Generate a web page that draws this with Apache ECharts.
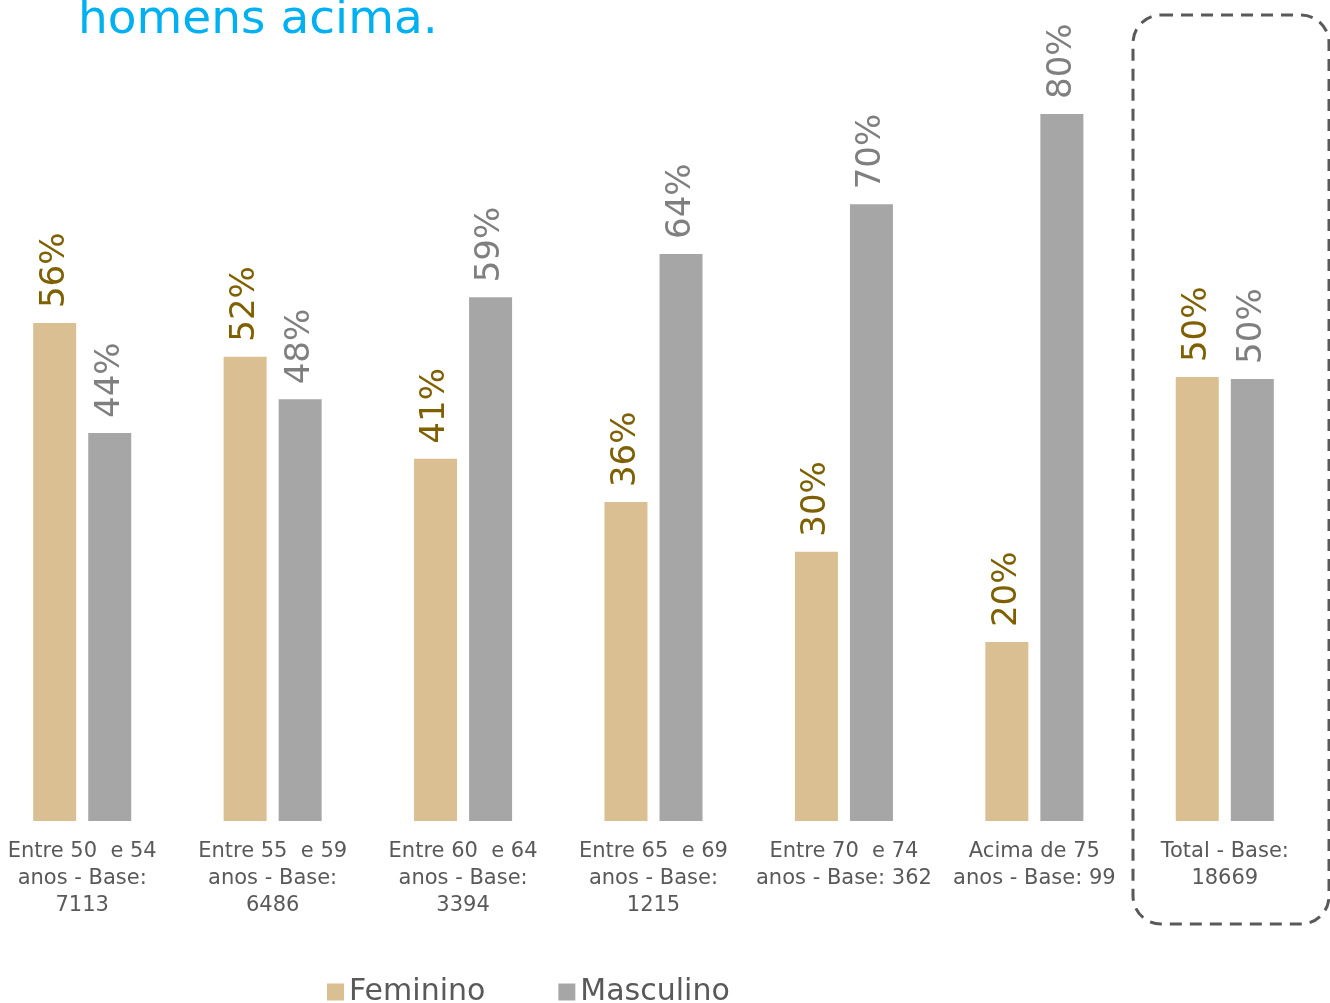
<!DOCTYPE html>
<html>
<head>
<meta charset="utf-8">
<script src="https://cdn.jsdelivr.net/npm/echarts@6/dist/echarts.min.js"></script>
<style>html,body{margin:0;padding:0;background:#fff;overflow:hidden}#c{width:1343px;height:1003px;margin-left:-13px}</style>
</head>
<body>
<div id="c"></div>
<script>
const categories = [
  "Entre 50  e 54\nanos - Base:\n7113",
  "Entre 55  e 59\nanos - Base:\n6486",
  "Entre 60  e 64\nanos - Base:\n3394",
  "Entre 65  e 69\nanos - Base:\n1215",
  "Entre 70  e 74\nanos - Base: 362",
  "Acima de 75\nanos - Base: 99",
  "Total - Base:\n18669"
];
const feminino = [56.2, 52.4, 40.9, 36.0, 30.4, 20.2, 50.1];
const masculino = [43.8, 47.6, 59.1, 64.0, 69.6, 79.8, 49.9];
const seriesNames = ["Feminino", "Masculino"];
const titleText = "homens acima.";

const OFF = 13; // container shifted left by this amount
const chart = echarts.init(document.getElementById('c'));
const FONT = '"DejaVu Sans", sans-serif';
function lbl(color) {
  return {
    show: true, position: 'top', rotate: 90, distance: 15,
    align: 'left', verticalAlign: 'middle',
    color: color, fontSize: 34, fontFamily: FONT,
    formatter: p => Math.round(p.value) + '%'
  };
}
chart.setOption({
  animation: false,
  backgroundColor: '#ffffff',
  grid: { left: 0, right: 10, top: 23.6, bottom: 182, containLabel: false },
  legend: {
    data: seriesNames, left: 327 + OFF, top: 977, itemWidth: 17, itemHeight: 17, itemGap: 73,
    icon: 'rect', padding: 0,
    textStyle: { color: '#595959', fontSize: 30, fontFamily: FONT, padding: [0, 0, 0, 0] }
  },
  xAxis: {
    type: 'category', data: categories,
    axisLine: { show: false }, axisTick: { show: false },
    axisLabel: { color: '#595959', fontSize: 21, fontFamily: FONT, lineHeight: 27, margin: 17, interval: 0 }
  },
  yAxis: { type: 'value', min: 0, max: 90, show: false, splitLine: { show: false } },
  series: [
    { name: seriesNames[0], type: 'bar', data: feminino, barWidth: 43, barGap: '28%',
      itemStyle: { color: '#d9bf91' }, label: lbl('#7f6000') },
    { name: seriesNames[1], type: 'bar', data: masculino, barWidth: 43, barGap: '28%',
      itemStyle: { color: '#a6a6a6' }, label: lbl('#7f7f7f') }
  ],
  graphic: [
    { type: 'text', left: 78 + OFF, top: -3, style: { text: titleText, fill: '#00b0f0', fontSize: 47, fontFamily: FONT } },
    { type: 'rect', shape: { x: 1133 + OFF, y: 15, width: 196, height: 909, r: 28 },
      style: { fill: 'none', stroke: '#595959', lineWidth: 3, lineDash: [12, 8] } }
  ]
});
</script>
</body>
</html>
